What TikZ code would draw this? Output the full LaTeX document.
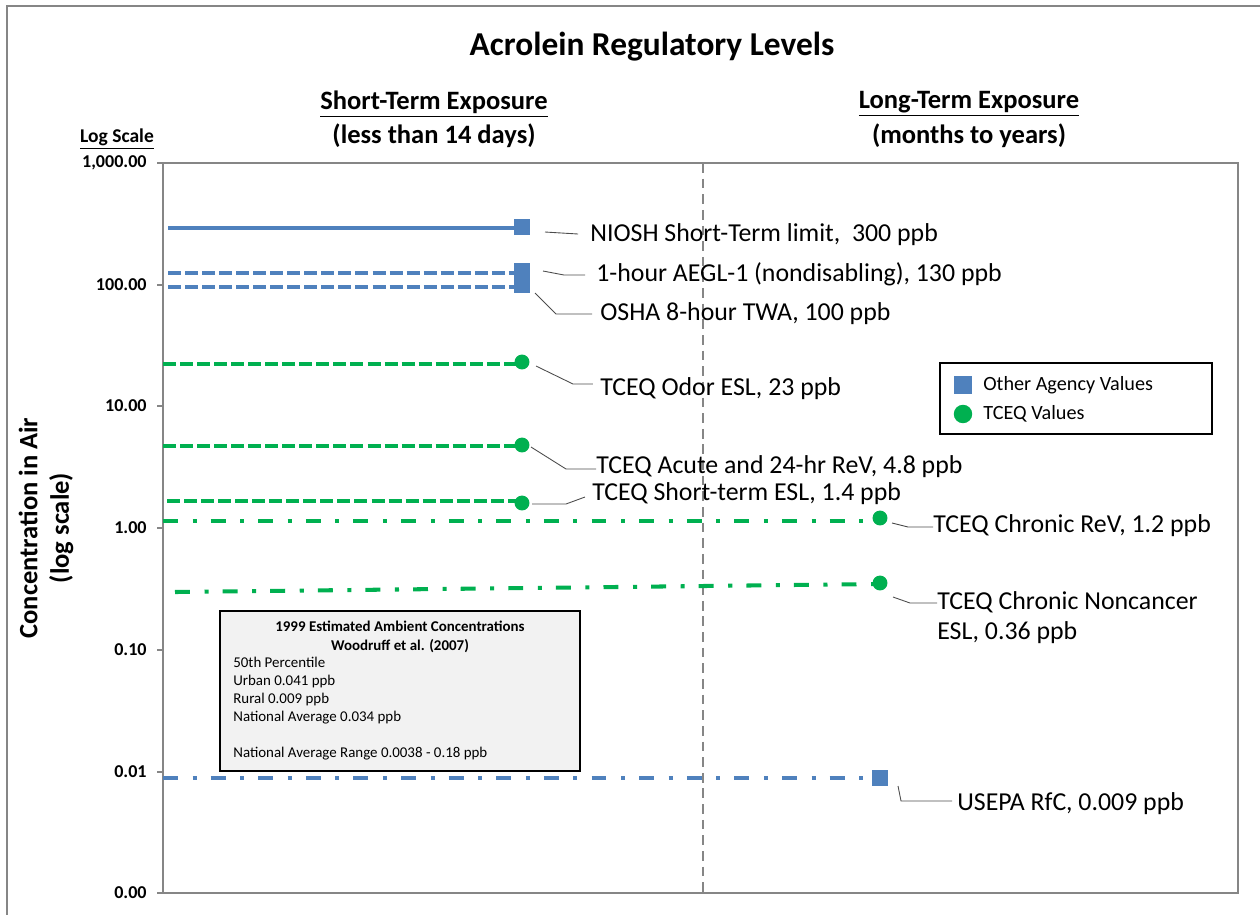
\documentclass[tikz,border=0pt]{standalone}
\usepackage{fontspec}
\setmainfont{Carlito}
\usetikzlibrary{positioning}
\definecolor{agency}{HTML}{4F81BD}
\definecolor{tceq}{HTML}{00B050}
\definecolor{axisgray}{HTML}{868686}
\definecolor{boxfill}{HTML}{F2F2F2}

\begin{document}
\begin{tikzpicture}[x=0.02cm,y=-0.02cm,
    every node/.style={inner sep=0pt},
    level/.style={line width=2.3pt},
    shortdash/.style={dash pattern=on 7.4pt off 2.3pt},
    dashdot/.style={dash pattern=on 8.5pt off 8.3pt on 2.3pt off 8pt},
    sq/.style={fill=agency,minimum size=9pt},
    dot/.style={circle,fill=tceq,minimum size=8.5pt},
    lead/.style={draw=black!70,line width=0.5pt},
    note/.style={anchor=west,font=\fontsize{14.7}{17}\selectfont},
    tick/.style={anchor=east,font=\bfseries\fontsize{10.3}{12}\selectfont},
    head/.style={font=\bfseries\fontsize{15.1}{18}\selectfont}]
  \useasboundingbox (0,0) rectangle (1260,914);
  % outer frame and plot area
  \draw[axisgray,line width=1.2pt] (7,930) -- (7,6) -- (1280,6);
  \draw[axisgray,line width=0.6pt] (163,163) rectangle (1238,893);
  \draw[axisgray,line width=0.8pt,dash pattern=on 5.5pt off 3.4pt] (703,163) -- (703,893);
  %% titles
  \node[font=\bfseries\fontsize{19}{22}\selectfont] (title) at (652,47) {Acrolein Regulatory Levels};
  \node[head] (shortHead) at (434,104) {\underline{Short-Term Exposure}};
  \node[head] (shortSub) at (434,136) {(less than 14 days)};
  \node[head] (longHead) at (969,104) {\underline{Long-Term Exposure}};
  \node[head] (longSub) at (969,136) {(months to years)};
  \node[font=\bfseries\fontsize{11.1}{13}\selectfont] (logScale) at (117,139) {\underline{Log Scale}};
  \node[head,rotate=90,align=center] (yLabel) at (46,528) {Concentration in Air\\(log scale)};
  %% y axis ticks
  \foreach \y/\lab in {163/{1,000.00},285/100.00,406/10.00,528/1.00,650/0.10,772/0.01,893/0.00}{
    \draw[axisgray,line width=0.6pt] (157,\y) -- (163,\y);
    \node[tick] at (147,\y) {\lab};
  }
  %% short-term levels
  \coordinate (nioshStart) at (168,228);
  \coordinate (aeglStart) at (168,273);
  \coordinate (oshaStart) at (168,287);
  \coordinate (odorStart) at (163,364);
  \coordinate (acuteStart) at (163,446);
  \coordinate (stEslStart) at (167,501);
  \node[sq] (aegl) at (522,271) {};
  \node[sq] (osha) at (522,285) {};
  \node[sq] (niosh) at (522,227) {};
  \draw[level,agency] (nioshStart) -- (niosh.west |- nioshStart);
  \draw[level,agency,shortdash] (aeglStart) -- (aegl.west |- aeglStart);
  \draw[level,agency,shortdash] (oshaStart) -- (osha.west |- oshaStart);
  \draw[level,tceq,shortdash] (odorStart) -- (522,364);
  \draw[level,tceq,shortdash] (acuteStart) -- (522,446);
  \draw[level,tceq,shortdash] (stEslStart) -- (522,501);
  \node[dot] (odor) at (522,362) {};
  \node[dot] (acute) at (522,445) {};
  \node[dot] (stEsl) at (522,503) {};
  %% long-term levels
  \coordinate (revStart) at (163,521);
  \coordinate (ncStart) at (175,592);
  \coordinate (rfcStart) at (163,778);
  \draw[level,tceq,dashdot] (revStart) -- (880,521);
  \draw[level,tceq,dashdot] (ncStart) -- (880,584);
  \draw[level,agency,dashdot] (rfcStart) -- (880,778);
  \node[dot] (rev) at (880,518) {};
  \node[dot] (nc) at (880,583) {};
  \node[sq] (rfc) at (880,778) {};
  %% labels
  \node[note] (nioshLab) at (590,235) {NIOSH Short-Term limit,\ \ 300 ppb};
  \node[note] (aeglLab) at (596,274) {1-hour AEGL-1 (nondisabling), 130 ppb};
  \node[note] (oshaLab) at (600,314) {OSHA 8-hour TWA, 100 ppb};
  \node[note] (odorLab) at (600,389) {TCEQ Odor ESL, 23 ppb};
  \node[note] (acuteLab) at (596,467) {TCEQ Acute and 24-hr ReV, 4.8 ppb};
  \node[note] (stEslLab) at (592,494) {TCEQ Short-term ESL, 1.4 ppb};
  \node[note] (revLab) at (933,526) {TCEQ Chronic ReV, 1.2 ppb};
  \node[note,align=left] (ncLab) at (937,618) {TCEQ Chronic Noncancer\\ESL, 0.36 ppb};
  \node[note] (rfcLab) at (957,804) {USEPA RfC, 0.009 ppb};
  %% leaders
  \draw[lead] (545,232) -- ([xshift=-6.8pt]nioshLab.west |- 0,234);
  \draw[lead] (543,271) -- (564,275) -- ([xshift=-6.2pt]aeglLab.west |- 0,275);
  \draw[lead] (535,293) -- (556,314) -- ([xshift=-4.5pt]oshaLab.west |- 0,314);
  \draw[lead] (536,366) -- (573,384) -- ([xshift=-4pt]odorLab.west |- 0,384);
  \draw[lead] (531,447) -- (566,469) -- (acuteLab.west |- 0,469);
  \draw[lead] (532,504) -- (566,504) -- ([xshift=-4pt]stEslLab.west |- 0,497);
  \draw[lead] (892,523) -- (908,527) -- (revLab.west |- 0,527);
  \draw[lead] (893,597) -- (910,603) -- (ncLab.west |- 0,603);
  \draw[lead] (898,786) -- (901,801) -- ([xshift=-2.8pt]rfcLab.west |- 0,801);
  %% legend
  \draw[black,line width=1pt] (940,363) rectangle (1212,434);
  \node[fill=agency,minimum size=10pt] (legSq) at (963,385) {};
  \node[circle,fill=tceq,minimum size=10.5pt] (legDot) at (963,414) {};
  \node[anchor=west,font=\fontsize{11.5}{13}\selectfont] (legAgency) at (983,385) {Other Agency Values};
  \node[anchor=west,font=\fontsize{11.5}{13}\selectfont] (legTceq) at (983,414) {TCEQ Values};
  %% ambient box
  \draw[black,line width=1pt,fill=boxfill] (220,611) rectangle (580,771);
  \node[font=\bfseries\fontsize{8.5}{10.5}\selectfont,align=center] (boxHead) at (400,637) {1999 Estimated Ambient Concentrations\\Woodruff et al. (2007)};
  \node[anchor=north west,font=\fontsize{8.5}{10.2}\selectfont,align=left] (boxBody) at (233,657) {50th Percentile\\Urban 0.041 ppb\\Rural 0.009 ppb\\National Average 0.034 ppb\\[10.2pt]National Average Range 0.0038 - 0.18 ppb};
\end{tikzpicture}
\end{document}
